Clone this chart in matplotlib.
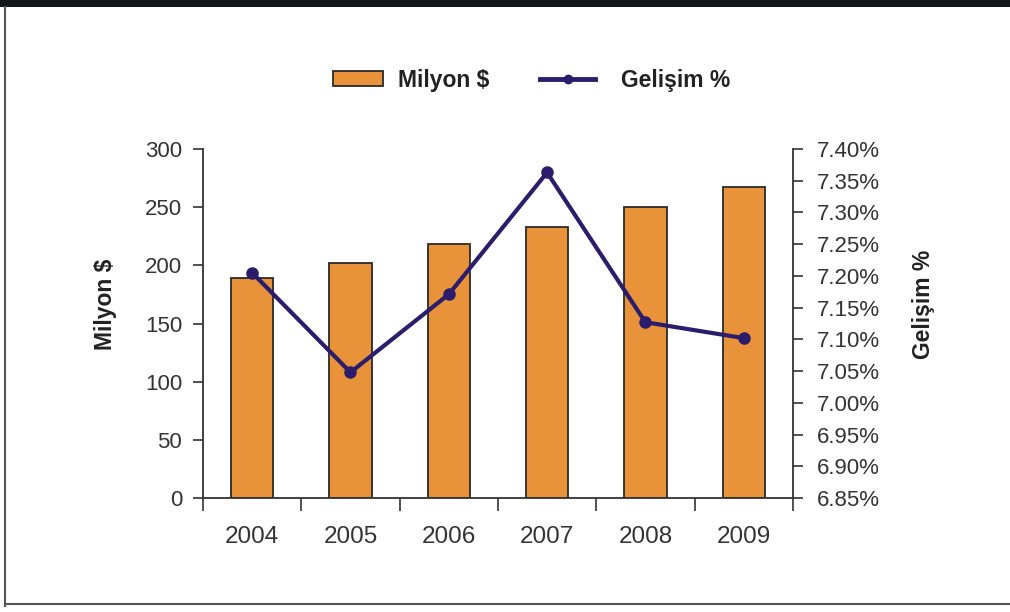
import matplotlib.pyplot as plt
from matplotlib.lines import Line2D
from matplotlib.patches import Rectangle
from matplotlib.ticker import FixedLocator, FuncFormatter

plt.rcParams['font.family'] = ['Liberation Sans', 'DejaVu Sans']

# Data
years = ['2004', '2005', '2006', '2007', '2008', '2009']
milyon = [189, 202, 218, 233, 250, 267]
gelisim = [7.205, 7.048, 7.171, 7.363, 7.127, 7.102]

bar_color = '#E8923A'
line_color = '#2C1C6C'
text_color = '#333333'

fig = plt.figure(figsize=(10.10, 6.12), dpi=100)
ax = fig.add_axes([0.201, 0.1863, 0.584, 0.5702])
x = list(range(len(years)))

ax.bar(x, milyon, width=0.43, color=bar_color, edgecolor='#2a2a2a', linewidth=1.3, zorder=2)
ax.set_xlim(-0.5, len(years) - 0.5)
ax.set_ylim(0, 300)
ax.set_yticks(range(0, 301, 50))

# category labels at centers, tick marks at boundaries
ax.set_xticks(x)
ax.set_xticklabels(years)
ax.xaxis.set_minor_locator(FixedLocator([i - 0.5 for i in range(len(years) + 1)]))
ax.tick_params(axis='x', which='major', length=0, pad=20, labelsize=17.5, labelcolor=text_color)
ax.tick_params(axis='x', which='minor', length=9, width=1.2, direction='out', color='#333333')
ax.tick_params(axis='y', length=7, width=1.2, pad=8, labelsize=16, labelcolor=text_color, color='#333333')

for s in ['top', 'right']:
    ax.spines[s].set_visible(False)
for s in ['left', 'bottom']:
    ax.spines[s].set_linewidth(1.3)
    ax.spines[s].set_color('#333333')

ax.set_ylabel('Milyon $', fontsize=16.5, fontweight='bold', color='#222222')
ax.yaxis.set_label_coords(-0.146, 0.556)

ax2 = ax.twinx()
ax2.plot(x, gelisim, color=line_color, linewidth=3, marker='o', markersize=8, zorder=3)
ax2.set_ylim(6.85, 7.40)
ax2.set_yticks([6.85 + 0.05 * i for i in range(12)])
ax2.yaxis.set_major_formatter(FuncFormatter(lambda v, p: f'{v:.2f}%'))
ax2.tick_params(axis='y', length=7, width=1.2, pad=10, labelsize=16, labelcolor=text_color, color='#333333')
for s in ['top', 'left', 'bottom']:
    ax2.spines[s].set_visible(False)
ax2.spines['right'].set_linewidth(1.3)
ax2.spines['right'].set_color('#333333')
ax2.set_ylabel('Gelişim %', fontsize=16.5, fontweight='bold', color='#222222', rotation=90)
ax2.yaxis.set_label_coords(1.202, 0.556)

# legend above the plot, one entry each so the gaps can differ
leg_font = {'weight': 'bold', 'size': 16.5}
bar_handle = Rectangle((0, 0), 1, 1, facecolor=bar_color, edgecolor='#2a2a2a', linewidth=1.3)
line_handle = Line2D([], [], color=line_color, linewidth=3.5, marker='o', markersize=6)
fig.legend([bar_handle], ['Milyon $'], loc='center left', bbox_to_anchor=(333 / 1010, 0.869),
           frameon=False, prop=leg_font, borderpad=0, borderaxespad=0,
           handlelength=2.2, handleheight=0.65, handletextpad=0.65, labelcolor='#222222')
fig.legend([line_handle], ['Gelişim %'], loc='center left', bbox_to_anchor=(540 / 1010, 0.869),
           frameon=False, prop=leg_font, borderpad=0, borderaxespad=0,
           handlelength=2.4, handletextpad=1.15, labelcolor='#222222')

# page frame: black band on top, thin lines left and bottom
fig.add_artist(Rectangle((0, 1 - 7 / 612), 1, 7 / 612, transform=fig.transFigure,
                         facecolor='#141516', edgecolor='none'))
fig.add_artist(Line2D([5 / 1010, 5 / 1010], [1 - 7 / 612, 1 - 606 / 612],
                      transform=fig.transFigure, color='#555555', linewidth=1.5))
fig.add_artist(Line2D([5 / 1010, 1], [1 - 604 / 612, 1 - 604 / 612],
                      transform=fig.transFigure, color='#555555', linewidth=1.5))

fig.savefig('out.png', dpi=100)
